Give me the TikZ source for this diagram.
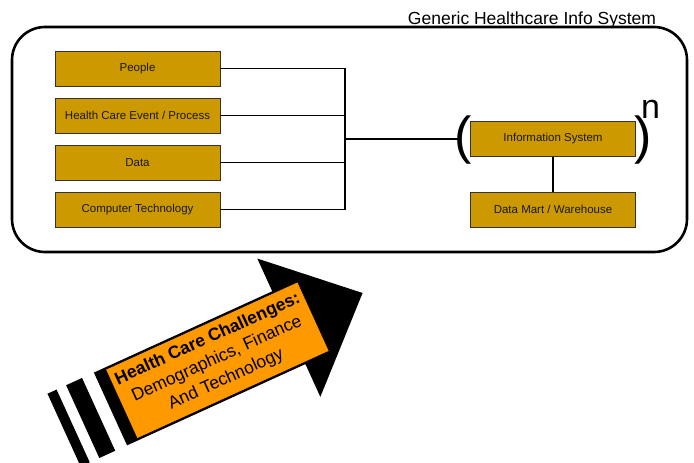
\documentclass[tikz,border=0pt]{standalone}
\usepackage{fontspec}
\setmainfont{Liberation Sans}
\definecolor{boxgold}{HTML}{CC9900}
\definecolor{arroworange}{HTML}{FF9900}
\begin{document}
\begin{tikzpicture}[x=1pt,y=-1pt,
  box/.style={draw=black!80, fill=boxgold, line width=0.8pt, minimum width=165pt, minimum height=35pt, inner sep=0pt, font=\fontsize{11.5}{13}\selectfont, text=black!90},
  conn/.style={line width=1.3pt},
  glyph/.style={inner sep=0pt},
]
\useasboundingbox (0,0) rectangle (694,463);
% frame
\node[draw, line width=2.6pt, rounded corners=33pt, minimum width=675pt, minimum height=225pt, inner sep=0pt] (frame) at (349.5,139.5) {};
\node[anchor=base, glyph, font=\fontsize{17.5}{20}\selectfont] (title) at (532,24) {Generic Healthcare Info System};
% left boxes
\node[box] (people) at (137.5,68.5) {People};
\node[box] (hce) at (137.5,115.5) {Health Care Event / Process};
\node[box] (data) at (137.5,162.5) {Data};
\node[box] (ct) at (137.5,209.5) {Computer Technology};
\coordinate (bus) at (345,139);
\draw[conn] (people.east) -| (bus);
\draw[conn] (ct.east) -| (bus);
\draw[conn] (hce.east) -- (hce.east -| bus);
\draw[conn] (data.east) -- (data.east -| bus);
% right boxes
\node[box] (info) at (553,139) {Information System};
\node[box] (mart) at (553,209.5) {Data Mart / Warehouse};
\coordinate (parenin) at (460,139);
\draw[line width=2pt] (bus) -- (parenin);
\draw[conn] (info) -- (mart);
\node[glyph, font=\fontsize{52}{52}\selectfont] (lp) at (463.5,140) {(};
\node[glyph, font=\fontsize{52}{52}\selectfont] (rp) at (643.5,140) {)};
\node[glyph, font=\fontsize{34}{34}\selectfont] (exp) at (650.5,109) {n};
% arrow
\begin{scope}[shift={(121.4,404)}, rotate=24.5]
  \fill[black] (-12,-40) -- (184,-40) -- (184,-76) -- (265.5,-1) -- (184,76) -- (184,40) -- (-12,40) -- cycle;
  \fill[black] (-42.5,-40) rectangle (-25,40);
  \fill[black] (-63,-40) rectangle (-53,40);
  \draw[fill=arroworange, line width=0.6pt] (0,-38) rectangle (211,38);
  \node[glyph, rotate=24.5, align=center, font=\fontsize{17.5}{22}\selectfont] (challenge) at (105.5,-1) {\bfseries Health Care Challenges:\\Demographics, Finance\\And Technology};
\end{scope}
\end{tikzpicture}
\end{document}
